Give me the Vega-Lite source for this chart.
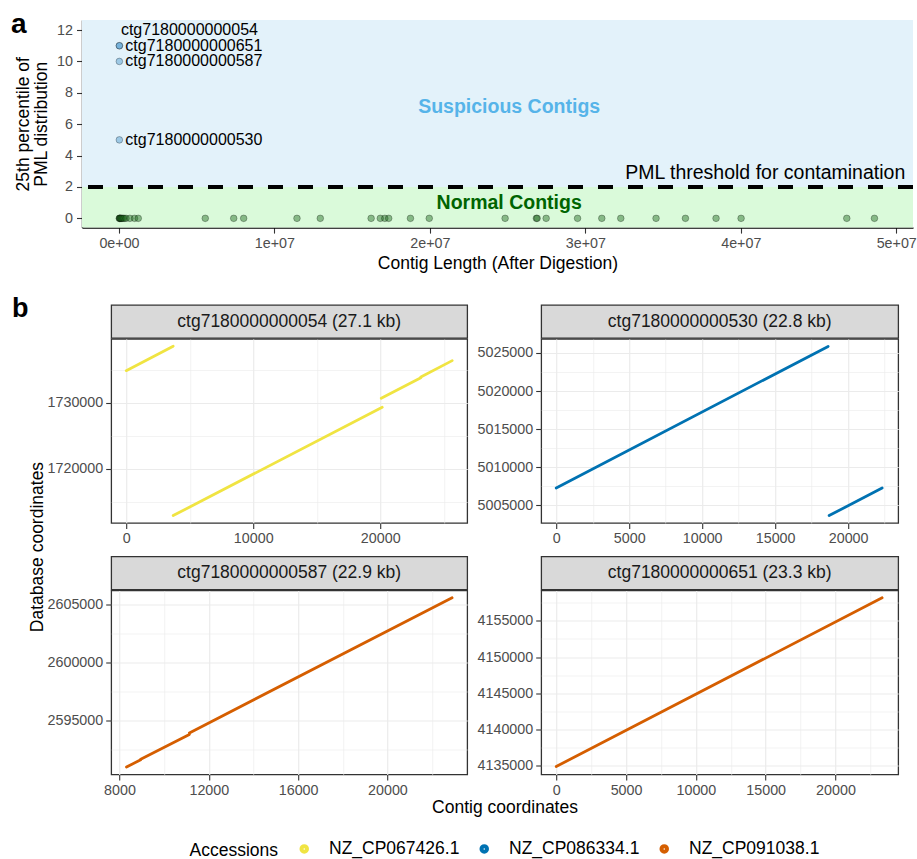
{
  "$schema": "https://vega.github.io/schema/vega-lite/v6.json",
  "padding": {"left": 10, "top": 11, "right": 5, "bottom": 5},
  "datasets": {
    "zones": [
      {"zone": "Suspicious", "xmin": -2380000, "xmax": 51080000, "ymin": 2, "ymax": 12.64},
      {"zone": "Normal", "xmin": -2380000, "xmax": 51080000, "ymin": -0.59, "ymax": 2}
    ],
    "contigs": [
      {"contig": "ctg7180000000054", "length": 27100, "pml": 11, "status": "Suspicious"},
      {"contig": "ctg7180000000651", "length": 23300, "pml": 11, "status": "Suspicious"},
      {"contig": "ctg7180000000587", "length": 22900, "pml": 10, "status": "Suspicious"},
      {"contig": "ctg7180000000530", "length": 22800, "pml": 5, "status": "Suspicious"},
      {"contig": "n01", "length": 20000, "pml": 0, "status": "Normal"},
      {"contig": "n02", "length": 40000, "pml": 0, "status": "Normal"},
      {"contig": "n03", "length": 60000, "pml": 0, "status": "Normal"},
      {"contig": "n04", "length": 90000, "pml": 0, "status": "Normal"},
      {"contig": "n05", "length": 130000, "pml": 0, "status": "Normal"},
      {"contig": "n06", "length": 180000, "pml": 0, "status": "Normal"},
      {"contig": "n07", "length": 250000, "pml": 0, "status": "Normal"},
      {"contig": "n08", "length": 330000, "pml": 0, "status": "Normal"},
      {"contig": "n09", "length": 450000, "pml": 0, "status": "Normal"},
      {"contig": "n10", "length": 700000, "pml": 0, "status": "Normal"},
      {"contig": "n11", "length": 1000000, "pml": 0, "status": "Normal"},
      {"contig": "n12", "length": 1240000, "pml": 0, "status": "Normal"},
      {"contig": "n13", "length": 5550000, "pml": 0, "status": "Normal"},
      {"contig": "n14", "length": 7380000, "pml": 0, "status": "Normal"},
      {"contig": "n15", "length": 8020000, "pml": 0, "status": "Normal"},
      {"contig": "n16", "length": 11450000, "pml": 0, "status": "Normal"},
      {"contig": "n17", "length": 12950000, "pml": 0, "status": "Normal"},
      {"contig": "n18", "length": 16220000, "pml": 0, "status": "Normal"},
      {"contig": "n19", "length": 16810000, "pml": 0, "status": "Normal"},
      {"contig": "n20", "length": 17100000, "pml": 0, "status": "Normal"},
      {"contig": "n21", "length": 17350000, "pml": 0, "status": "Normal"},
      {"contig": "n22", "length": 18750000, "pml": 0, "status": "Normal"},
      {"contig": "n23", "length": 19960000, "pml": 0, "status": "Normal"},
      {"contig": "n24", "length": 24840000, "pml": 0, "status": "Normal"},
      {"contig": "n25", "length": 26850000, "pml": 0, "status": "Normal"},
      {"contig": "n26", "length": 26900000, "pml": 0, "status": "Normal"},
      {"contig": "n27", "length": 27480000, "pml": 0, "status": "Normal"},
      {"contig": "n28", "length": 29500000, "pml": 0, "status": "Normal"},
      {"contig": "n29", "length": 31060000, "pml": 0, "status": "Normal"},
      {"contig": "n30", "length": 32280000, "pml": 0, "status": "Normal"},
      {"contig": "n31", "length": 34550000, "pml": 0, "status": "Normal"},
      {"contig": "n32", "length": 36440000, "pml": 0, "status": "Normal"},
      {"contig": "n33", "length": 38410000, "pml": 0, "status": "Normal"},
      {"contig": "n34", "length": 40020000, "pml": 0, "status": "Normal"},
      {"contig": "n35", "length": 46820000, "pml": 0, "status": "Normal"},
      {"contig": "n36", "length": 48600000, "pml": 0, "status": "Normal"}
    ],
    "segments": [
      {"contig": "ctg7180000000054", "accession": "NZ_CP067426.1", "qstart": 0, "qend": 3700, "sstart": 1734900, "send": 1738600},
      {"contig": "ctg7180000000054", "accession": "NZ_CP067426.1", "qstart": 3700, "qend": 20160, "sstart": 1712940, "send": 1729350},
      {"contig": "ctg7180000000054", "accession": "NZ_CP067426.1", "qstart": 20080, "qend": 23200, "sstart": 1730710, "send": 1733830},
      {"contig": "ctg7180000000054", "accession": "NZ_CP067426.1", "qstart": 23200, "qend": 25670, "sstart": 1733950, "send": 1736420},
      {"contig": "ctg7180000000530", "accession": "NZ_CP086334.1", "qstart": 0, "qend": 18630, "sstart": 5007237, "send": 5025870},
      {"contig": "ctg7180000000530", "accession": "NZ_CP086334.1", "qstart": 18700, "qend": 22330, "sstart": 5003605, "send": 5007237},
      {"contig": "ctg7180000000587", "accession": "NZ_CP091038.1", "qstart": 8314, "qend": 8950, "sstart": 2590983, "send": 2591620},
      {"contig": "ctg7180000000587", "accession": "NZ_CP091038.1", "qstart": 8950, "qend": 11130, "sstart": 2591670, "send": 2593800},
      {"contig": "ctg7180000000587", "accession": "NZ_CP091038.1", "qstart": 11130, "qend": 22898, "sstart": 2593930, "send": 2605578},
      {"contig": "ctg7180000000651", "accession": "NZ_CP091038.1", "qstart": 0, "qend": 23340, "sstart": 4134903, "send": 4158172}
    ]
  },
  "spacing": 23,
  "vconcat": [
    {
      "width": 831,
      "height": 207.6,
      "title": {"text": "a", "anchor": "start", "frame": "bounds", "fontSize": 28, "fontWeight": "bold", "baseline": "alphabetic", "offset": 0, "dx": -3, "dy": 41, "color": "#000000"},
      "layer": [
        {
          "data": {"name": "zones"},
          "mark": {"type": "rect"},
          "encoding": {
            "x": {"field": "xmin", "type": "quantitative", "scale": {"domain": [-2380000, 51080000], "nice": false, "zero": false},
              "axis": {"values": [0, 10000000, 20000000, 30000000, 40000000, 50000000], "labelExpr": "datum.value === 0 ? '0e+00' : format(datum.value / 10000000, 'd') + 'e+07'", "title": "Contig Length (After Digestion)", "domain": true, "domainColor": "#000000", "domainWidth": 1.4, "titlePadding": 4, "labelOverlap": false}},
            "x2": {"field": "xmax"},
            "y": {"field": "ymin", "type": "quantitative", "scale": {"domain": [-0.59, 12.64], "nice": false, "zero": false},
              "axis": {"tickCount": 7, "title": ["25th percentile of", "PML distribution"], "titleX": -50, "titleLineHeight": 18, "domain": true, "domainColor": "#000000", "domainWidth": 1.4, "labelPadding": 4, "labelOverlap": false, "labelSeparation": 0, "labelBound": false}},
            "y2": {"field": "ymax"},
            "fill": {"condition": {"test": "datum.zone === 'Suspicious'", "value": "#E3F2FA"}, "value": "#DAFADA"}
          }
        },
        {
          "data": {"values": [{"threshold": 2}]},
          "mark": {"type": "rule", "strokeDash": [15, 15], "strokeWidth": 4, "color": "#000000"},
          "encoding": {"y": {"field": "threshold", "type": "quantitative"}}
        },
        {
          "data": {"name": "contigs"},
          "mark": {"type": "point", "filled": true, "size": 44, "opacity": 1, "fillOpacity": 0.45, "stroke": "#000000", "strokeWidth": 0.7, "strokeOpacity": 0.4},
          "encoding": {
            "x": {"field": "length", "type": "quantitative"},
            "y": {"field": "pml", "type": "quantitative"},
            "fill": {"condition": {"test": "datum.status === 'Suspicious'", "value": "#4896CD"}, "value": "#1E6B1E"}
          }
        },
        {
          "data": {"name": "contigs"},
          "transform": [{"filter": "datum.status === 'Suspicious' && datum.contig !== 'ctg7180000000054'"}],
          "mark": {"type": "text", "align": "left", "baseline": "middle", "dx": 6, "fontSize": 16, "color": "#000000"},
          "encoding": {
            "x": {"field": "length", "type": "quantitative"},
            "y": {"field": "pml", "type": "quantitative"},
            "text": {"field": "contig", "type": "nominal"}
          }
        },
        {
          "data": {"name": "contigs"},
          "transform": [{"filter": "datum.contig === 'ctg7180000000054'"}],
          "mark": {"type": "text", "align": "left", "baseline": "middle", "dx": 1.5, "dy": -15.7, "fontSize": 16, "color": "#000000"},
          "encoding": {
            "x": {"field": "length", "type": "quantitative"},
            "y": {"field": "pml", "type": "quantitative"},
            "text": {"field": "contig", "type": "nominal"}
          }
        },
        {
          "data": {"values": [{"label": "Suspicious Contigs", "x": 25100000, "y": 7.1}]},
          "mark": {"type": "text", "align": "center", "baseline": "middle", "fontSize": 19.5, "fontWeight": "bold", "color": "#56B4E9"},
          "encoding": {"x": {"field": "x", "type": "quantitative"}, "y": {"field": "y", "type": "quantitative"}, "text": {"field": "label", "type": "nominal"}}
        },
        {
          "data": {"values": [{"label": "Normal Contigs", "x": 25100000, "y": 1.0}]},
          "mark": {"type": "text", "align": "center", "baseline": "middle", "fontSize": 19.5, "fontWeight": "bold", "color": "#006400"},
          "encoding": {"x": {"field": "x", "type": "quantitative"}, "y": {"field": "y", "type": "quantitative"}, "text": {"field": "label", "type": "nominal"}}
        },
        {
          "data": {"values": [{"label": "PML threshold for contamination", "x": 50580000, "y": 2.86}]},
          "mark": {"type": "text", "align": "right", "baseline": "middle", "fontSize": 19.5, "color": "#000000"},
          "encoding": {"x": {"field": "x", "type": "quantitative"}, "y": {"field": "y", "type": "quantitative"}, "text": {"field": "label", "type": "nominal"}}
        }
      ]
    },
    {
      "title": {"text": "b", "anchor": "start", "frame": "bounds", "fontSize": 27, "fontWeight": "bold", "baseline": "alphabetic", "offset": 0, "dx": -16.5, "dy": 40, "color": "#000000"},
      "spacing": -36.8,
      "hconcat": [
        {
          "width": 1,
          "height": 484,
          "data": {"values": [{}]},
          "mark": {"type": "point", "opacity": 0, "size": 1},
          "encoding": {},
          "title": {"text": "Database coordinates", "orient": "left", "anchor": "middle", "frame": "group", "offset": 36, "fontSize": 17.5, "fontWeight": "normal", "color": "#000000"}
        },
        {
          "spacing": -6,
          "vconcat": [
            {
              "spacing": 8.5,
              "vconcat": [
                {
                  "spacing": 8,
                  "hconcat": [
                    {
                      "spacing": -1,
                      "vconcat": [
                        {"width": 356, "height": 33, "data": {"values": [{"label": "ctg7180000000054 (27.1 kb)"}]}, "mark": {"type": "text", "fontSize": 17.5, "color": "#1A1A1A", "baseline": "middle"}, "encoding": {"text": {"field": "label", "type": "nominal"}}, "view": {"fill": "#D9D9D9", "stroke": "#333333", "strokeWidth": 1.3}},
                        {
                          "width": 356, "height": 184,
                          "data": {"name": "segments"},
                          "transform": [{"filter": "datum.contig === 'ctg7180000000054'"}],
                          "mark": {"type": "rule", "strokeWidth": 2.8, "strokeCap": "round"},
                          "view": {"stroke": "#333333", "strokeWidth": 1.3},
                          "encoding": {
                            "x": {"field": "qstart", "type": "quantitative", "scale": {"domain": [-1181, 26850], "nice": false, "zero": false},
                              "axis": {"values": [0, 5000, 10000, 15000, 20000, 25000], "format": "d", "labelExpr": "datum.value % 10000 === 0 ? datum.label : ''", "title": null, "grid": true, "gridColor": "#EBEBEB", "gridWidth": {"condition": {"test": "datum.value % 10000 === 0", "value": 1.2}, "value": 0.6}, "tickOpacity": {"condition": {"test": "datum.value % 10000 === 0", "value": 1}, "value": 0}}},
                            "x2": {"field": "qend"},
                            "y": {"field": "sstart", "type": "quantitative", "scale": {"domain": [1711818, 1739697], "nice": false, "zero": false},
                              "axis": {"values": [1715000, 1720000, 1725000, 1730000, 1735000], "format": "d", "labelExpr": "datum.value % 10000 === 0 ? datum.label : ''", "title": null, "grid": true, "gridColor": "#EBEBEB", "gridWidth": {"condition": {"test": "datum.value % 10000 === 0", "value": 1.2}, "value": 0.6}, "tickOpacity": {"condition": {"test": "datum.value % 10000 === 0", "value": 1}, "value": 0}}},
                            "y2": {"field": "send"},
                            "color": {"field": "accession", "type": "nominal", "scale": {"domain": ["NZ_CP067426.1", "NZ_CP086334.1", "NZ_CP091038.1"], "range": ["#F0E442", "#0072B2", "#D55E00"]},
                              "legend": {"title": "Accessions", "orient": "none", "legendX": 107.5, "legendY": 820, "direction": "horizontal", "titleOrient": "left", "symbolType": "circle", "symbolSize": 16, "symbolStrokeWidth": 5.5, "labelFontSize": 17.5, "titleFontSize": 17.5, "titleFontWeight": "normal", "titleColor": "#000000", "labelColor": "#000000", "labelOffset": 16, "columnPadding": 11, "titlePadding": 17, "titleBaseline": "middle"}}
                          }
                        }
                      ]
                    },
                    {
                      "spacing": -1,
                      "vconcat": [
                        {"width": 357, "height": 33, "data": {"values": [{"label": "ctg7180000000530 (22.8 kb)"}]}, "mark": {"type": "text", "fontSize": 17.5, "color": "#1A1A1A", "baseline": "middle"}, "encoding": {"text": {"field": "label", "type": "nominal"}}, "view": {"fill": "#D9D9D9", "stroke": "#333333", "strokeWidth": 1.3}},
                        {
                          "width": 357, "height": 184,
                          "data": {"name": "segments"},
                          "transform": [{"filter": "datum.contig === 'ctg7180000000530'"}],
                          "mark": {"type": "rule", "strokeWidth": 2.8, "strokeCap": "round"},
                          "view": {"stroke": "#333333", "strokeWidth": 1.3},
                          "encoding": {
                            "x": {"field": "qstart", "type": "quantitative", "scale": {"domain": [-1029, 23432], "nice": false, "zero": false},
                              "axis": {"values": [0, 2500, 5000, 7500, 10000, 12500, 15000, 17500, 20000, 22500], "format": "d", "labelExpr": "datum.value % 5000 === 0 ? datum.label : ''", "title": null, "grid": true, "gridColor": "#EBEBEB", "gridWidth": {"condition": {"test": "datum.value % 5000 === 0", "value": 1.2}, "value": 0.6}, "tickOpacity": {"condition": {"test": "datum.value % 5000 === 0", "value": 1}, "value": 0}}},
                            "x2": {"field": "qend"},
                            "y": {"field": "sstart", "type": "quantitative", "scale": {"domain": [5002632, 5026842], "nice": false, "zero": false},
                              "axis": {"values": [5005000, 5007500, 5010000, 5012500, 5015000, 5017500, 5020000, 5022500, 5025000], "format": "d", "labelExpr": "datum.value % 5000 === 0 ? datum.label : ''", "title": null, "grid": true, "gridColor": "#EBEBEB", "gridWidth": {"condition": {"test": "datum.value % 5000 === 0", "value": 1.2}, "value": 0.6}, "tickOpacity": {"condition": {"test": "datum.value % 5000 === 0", "value": 1}, "value": 0}}},
                            "y2": {"field": "send"},
                            "color": {"field": "accession", "type": "nominal", "scale": {"domain": ["NZ_CP067426.1", "NZ_CP086334.1", "NZ_CP091038.1"], "range": ["#F0E442", "#0072B2", "#D55E00"]},
                              "legend": {"title": "Accessions", "orient": "none", "legendX": 107.5, "legendY": 820, "direction": "horizontal", "titleOrient": "left", "symbolType": "circle", "symbolSize": 16, "symbolStrokeWidth": 5.5, "labelFontSize": 17.5, "titleFontSize": 17.5, "titleFontWeight": "normal", "titleColor": "#000000", "labelColor": "#000000", "labelOffset": 16, "columnPadding": 11, "titlePadding": 17, "titleBaseline": "middle"}}
                          }
                        }
                      ]
                    }
                  ]
                },
                {
                  "spacing": 8,
                  "hconcat": [
                    {
                      "spacing": -1,
                      "vconcat": [
                        {"width": 356, "height": 33, "data": {"values": [{"label": "ctg7180000000587 (22.9 kb)"}]}, "mark": {"type": "text", "fontSize": 17.5, "color": "#1A1A1A", "baseline": "middle"}, "encoding": {"text": {"field": "label", "type": "nominal"}}, "view": {"fill": "#D9D9D9", "stroke": "#333333", "strokeWidth": 1.3}},
                        {
                          "width": 356, "height": 184,
                          "data": {"name": "segments"},
                          "transform": [{"filter": "datum.contig === 'ctg7180000000587'"}],
                          "mark": {"type": "rule", "strokeWidth": 2.8, "strokeCap": "round"},
                          "view": {"stroke": "#333333", "strokeWidth": 1.3},
                          "encoding": {
                            "x": {"field": "qstart", "type": "quantitative", "scale": {"domain": [7628, 23574], "nice": false, "zero": false},
                              "axis": {"values": [8000, 10000, 12000, 14000, 16000, 18000, 20000, 22000], "format": "d", "labelExpr": "datum.value % 4000 === 0 ? datum.label : ''", "title": null, "grid": true, "gridColor": "#EBEBEB", "gridWidth": {"condition": {"test": "datum.value % 4000 === 0", "value": 1.2}, "value": 0.6}, "tickOpacity": {"condition": {"test": "datum.value % 4000 === 0", "value": 1}, "value": 0}}},
                            "x2": {"field": "qend"},
                            "y": {"field": "sstart", "type": "quantitative", "scale": {"domain": [2590345, 2606207], "nice": false, "zero": false},
                              "axis": {"values": [2592500, 2595000, 2597500, 2600000, 2602500, 2605000], "format": "d", "labelExpr": "datum.value % 5000 === 0 ? datum.label : ''", "title": null, "grid": true, "gridColor": "#EBEBEB", "gridWidth": {"condition": {"test": "datum.value % 5000 === 0", "value": 1.2}, "value": 0.6}, "tickOpacity": {"condition": {"test": "datum.value % 5000 === 0", "value": 1}, "value": 0}}},
                            "y2": {"field": "send"},
                            "color": {"field": "accession", "type": "nominal", "scale": {"domain": ["NZ_CP067426.1", "NZ_CP086334.1", "NZ_CP091038.1"], "range": ["#F0E442", "#0072B2", "#D55E00"]},
                              "legend": {"title": "Accessions", "orient": "none", "legendX": 107.5, "legendY": 820, "direction": "horizontal", "titleOrient": "left", "symbolType": "circle", "symbolSize": 16, "symbolStrokeWidth": 5.5, "labelFontSize": 17.5, "titleFontSize": 17.5, "titleFontWeight": "normal", "titleColor": "#000000", "labelColor": "#000000", "labelOffset": 16, "columnPadding": 11, "titlePadding": 17, "titleBaseline": "middle"}}
                          }
                        }
                      ]
                    },
                    {
                      "spacing": -1,
                      "vconcat": [
                        {"width": 357, "height": 33, "data": {"values": [{"label": "ctg7180000000651 (23.3 kb)"}]}, "mark": {"type": "text", "fontSize": 17.5, "color": "#1A1A1A", "baseline": "middle"}, "encoding": {"text": {"field": "label", "type": "nominal"}}, "view": {"fill": "#D9D9D9", "stroke": "#333333", "strokeWidth": 1.3}},
                        {
                          "width": 357, "height": 184,
                          "data": {"name": "segments"},
                          "transform": [{"filter": "datum.contig === 'ctg7180000000651'"}],
                          "mark": {"type": "rule", "strokeWidth": 2.8, "strokeCap": "round"},
                          "view": {"stroke": "#333333", "strokeWidth": 1.3},
                          "encoding": {
                            "x": {"field": "qstart", "type": "quantitative", "scale": {"domain": [-1075, 24490], "nice": false, "zero": false},
                              "axis": {"values": [0, 2500, 5000, 7500, 10000, 12500, 15000, 17500, 20000, 22500], "format": "d", "labelExpr": "datum.value % 5000 === 0 ? datum.label : ''", "title": null, "grid": true, "gridColor": "#EBEBEB", "gridWidth": {"condition": {"test": "datum.value % 5000 === 0", "value": 1.2}, "value": 0.6}, "tickOpacity": {"condition": {"test": "datum.value % 5000 === 0", "value": 1}, "value": 0}}},
                            "x2": {"field": "qend"},
                            "y": {"field": "sstart", "type": "quantitative", "scale": {"domain": [4133800, 4159179], "nice": false, "zero": false},
                              "axis": {"values": [4135000, 4137500, 4140000, 4142500, 4145000, 4147500, 4150000, 4152500, 4155000, 4157500], "format": "d", "labelExpr": "datum.value % 5000 === 0 ? datum.label : ''", "title": null, "grid": true, "gridColor": "#EBEBEB", "gridWidth": {"condition": {"test": "datum.value % 5000 === 0", "value": 1.2}, "value": 0.6}, "tickOpacity": {"condition": {"test": "datum.value % 5000 === 0", "value": 1}, "value": 0}}},
                            "y2": {"field": "send"},
                            "color": {"field": "accession", "type": "nominal", "scale": {"domain": ["NZ_CP067426.1", "NZ_CP086334.1", "NZ_CP091038.1"], "range": ["#F0E442", "#0072B2", "#D55E00"]},
                              "legend": {"title": "Accessions", "orient": "none", "legendX": 107.5, "legendY": 820, "direction": "horizontal", "titleOrient": "left", "symbolType": "circle", "symbolSize": 16, "symbolStrokeWidth": 5.5, "labelFontSize": 17.5, "titleFontSize": 17.5, "titleFontWeight": "normal", "titleColor": "#000000", "labelColor": "#000000", "labelOffset": 16, "columnPadding": 11, "titlePadding": 17, "titleBaseline": "middle"}}
                          }
                        }
                      ]
                    }
                  ]
                }
              ]
            },
            {
              "width": 787.6,
              "height": 1,
              "data": {"values": [{"label": "Contig coordinates"}]},
              "mark": {"type": "text", "fontSize": 17.5, "baseline": "top", "color": "#000000"},
              "encoding": {"text": {"field": "label", "type": "nominal"}}
            }
          ]
        }
      ]
    }
  ],
  "config": {
    "font": "Liberation Sans",
    "view": {"stroke": null},
    "axis": {"labelFont": "Liberation Sans", "titleFont": "Liberation Sans", "labelFontSize": 14.3, "labelColor": "#4D4D4D", "titleFontSize": 17.5, "titleFontWeight": "normal", "titleColor": "#000000", "tickColor": "#333333", "tickSize": 5.5, "tickWidth": 1.1, "labelPadding": 3, "labelOverlap": false, "labelFlush": false, "domain": false, "grid": false},
    "axisY": {"labelOverlap": false},
    "legend": {"labelFont": "Liberation Sans", "titleFont": "Liberation Sans"},
    "text": {"font": "Liberation Sans"},
    "title": {"font": "Liberation Sans"}
  }
}
